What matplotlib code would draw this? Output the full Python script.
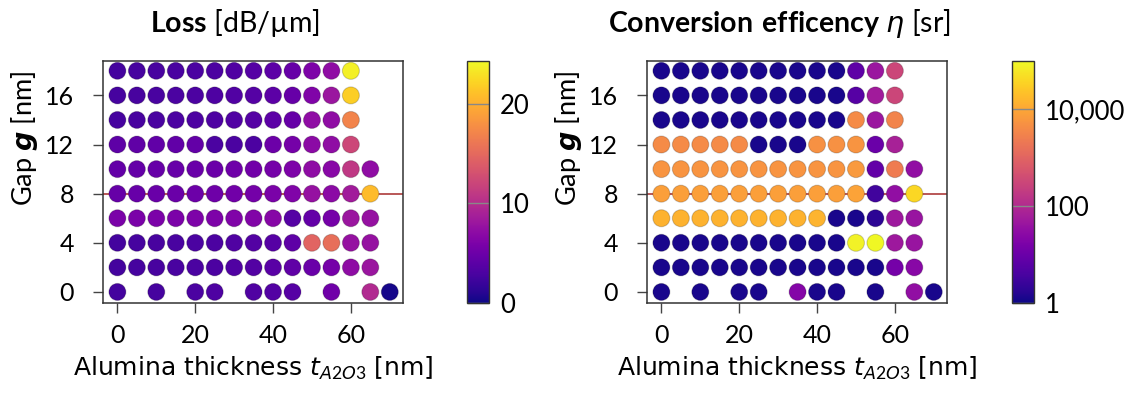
import numpy as np
import matplotlib
matplotlib.use("Agg")
import matplotlib.pyplot as plt
from matplotlib.colors import Normalize, LogNorm
from matplotlib.ticker import FuncFormatter

nan = np.nan

# alumina thickness (columns) and gap (rows)
thickness = [0, 5, 10, 15, 20, 25, 30, 35, 40, 45, 50, 55, 60, 65, 70]
gap = [0, 2, 4, 6, 8, 10, 12, 14, 16, 18]

# loss in dB/um, one row per gap value
loss_g0 = [2.6, nan, 2.7, nan, 3.0, 3.2, nan, 3.3, 3.5, 3.7, nan, 5.2, nan, 9.7, 0.3]
loss_g2 = [2.6, 2.7, 2.8, 2.9, 3.0, 3.1, 3.3, 3.5, 3.8, 4.2, 4.8, 5.6, 7.2, 8.0, nan]
loss_g4 = [2.6, 2.7, 2.8, 2.9, 3.0, 3.1, 3.3, 3.5, 3.7, 4.1, 14.6, 15.4, 7.6, 7.6, nan]
loss_g6 = [5.8, 5.8, 5.9, 5.9, 6.0, 6.0, 6.2, 6.3, 6.6, 3.6, 4.4, 5.6, 8.0, 7.6, nan]
loss_g8 = [4.6, 4.7, 4.8, 4.9, 5.0, 5.1, 5.3, 5.5, 5.8, 6.2, 7.6, 7.0, 8.5, 20.7, nan]
loss_g10 = [4.4, 4.5, 4.6, 4.7, 4.8, 4.9, 5.1, 5.3, 5.6, 6.0, 7.2, 6.8, 11.0, 7.3, nan]
loss_g12 = [4.1, 4.2, 4.3, 4.3, 4.4, 3.0, 3.0, 3.1, 5.0, 5.6, 7.0, 7.3, 12.2, nan, nan]
loss_g14 = [2.7, 2.8, 2.9, 3.0, 3.1, 3.2, 3.4, 3.6, 4.0, 4.6, 7.3, 7.3, 17.0, nan, nan]
loss_g16 = [2.7, 2.8, 2.9, 3.0, 3.1, 3.2, 3.4, 3.6, 4.0, 4.6, 6.2, 8.0, 21.9, nan, nan]
loss_g18 = [2.6, 2.7, 2.8, 2.9, 3.0, 3.1, 3.3, 3.6, 4.0, 4.6, 6.0, 7.3, 23.8, nan, nan]

# conversion efficiency in sr
eff_g0 = [1.2, nan, 1.2, nan, 1.2, 1.2, nan, 22, 1.2, 1.2, nan, 1.2, nan, 32, 1.2]
eff_g2 = [1.2, 1.2, 1.2, 1.2, 1.2, 1.2, 1.2, 1.2, 1.2, 1.2, 1.2, 1.2, 14, 25, nan]
eff_g4 = [1.2, 1.2, 1.2, 1.2, 1.2, 1.2, 1.2, 1.2, 1.2, 1.2, 80000, 95000, 50, 40, nan]
eff_g6 = [14000, 14000, 14000, 14000, 14000, 14000, 14000, 14000, 14500, 1.2, 1.2, 1.8, 50, 40, nan]
eff_g8 = [8000, 8000, 8000, 8000, 8000, 8000, 8000, 8000, 8000, 8000, 9000, 3.2, 32, 40000, nan]
eff_g10 = [5600, 5600, 5600, 5600, 5600, 5600, 5600, 5600, 5600, 5600, 6500, 8, 2500, 32, nan]
eff_g12 = [4000, 4000, 4000, 4000, 4000, 1.2, 1.2, 1.2, 5000, 5000, 5600, 10, 70, nan, nan]
eff_g14 = [1.2, 1.2, 1.2, 1.2, 1.2, 1.2, 1.2, 1.2, 1.2, 1.2, 4000, 45, 3200, nan, nan]
eff_g16 = [1.2, 1.2, 1.2, 1.2, 1.2, 1.2, 1.2, 1.2, 1.2, 1.2, 5.6, 56, 316, nan, nan]
eff_g18 = [1.2, 1.2, 1.2, 1.2, 1.2, 1.2, 1.2, 1.2, 1.2, 1.2, 7, 45, 316, nan, nan]

loss = np.array([loss_g0, loss_g2, loss_g4, loss_g6, loss_g8,
                 loss_g10, loss_g12, loss_g14, loss_g16, loss_g18])
eff = np.array([eff_g0, eff_g2, eff_g4, eff_g6, eff_g8,
                eff_g10, eff_g12, eff_g14, eff_g16, eff_g18])

plt.rcParams['font.family'] = ['Lato', 'DejaVu Sans']
plt.rcParams['font.size'] = 18
plt.rcParams['mathtext.fontset'] = 'custom'
plt.rcParams['mathtext.rm'] = 'Lato'
plt.rcParams['mathtext.bf'] = 'Lato:bold'
plt.rcParams['mathtext.it'] = 'DejaVu Sans:italic'
plt.rcParams['mathtext.bfit'] = 'DejaVu Sans:italic:bold'

fig = plt.figure(figsize=(11.28, 3.94), dpi=100)

W, H = 1128, 394


def box(x0, y0, x1, y1):
    return [x0 / W, 1 - y1 / H, (x1 - x0) / W, (y1 - y0) / H]


ax1 = fig.add_axes(box(103, 61, 403, 303))
cax1 = fig.add_axes(box(467, 61, 489, 303))
ax2 = fig.add_axes(box(647, 61, 947, 303))
cax2 = fig.add_axes(box(1012, 61, 1034, 303))

X, Y = np.meshgrid(thickness, gap)


def panel(ax, cax, data, norm, title, ticks, fmt):
    ok = ~np.isnan(data)
    ax.axhline(8, color='#a52a2a', lw=1.1, zorder=1)
    sc = ax.scatter(X[ok], Y[ok], c=data[ok], cmap='plasma', norm=norm, s=150,
                    edgecolors=(0, 0, 0, 0.18), linewidths=0.8, zorder=2)
    ax.set_xlim(-3.7, 73.4)
    ax.set_ylim(-0.9, 18.8)
    ax.set_xticks([0, 20, 40, 60])
    ax.set_yticks([0, 4, 8, 12, 16])
    ax.tick_params(length=7, width=1, color='#444444')
    ax.tick_params(axis='x', pad=8)
    ax.tick_params(axis='y', pad=14)
    for sp in ax.spines.values():
        sp.set_color('#333333')
        sp.set_linewidth(1.1)
    ax.set_xlabel(r'Alumina thickness $t_{A2O3}$ [nm]', labelpad=6,
                  fontfamily='DejaVu Sans')
    ax.set_ylabel(r'Gap $\mathbfit{g}$ [nm]', fontsize=19.5)
    ax.yaxis.set_label_coords(-0.21, 0.68)
    ax.set_title(title, x=0.44, pad=21, fontsize=20.5)
    cb = fig.colorbar(sc, cax=cax)
    cb.set_ticks(ticks)
    cb.ax.yaxis.set_major_formatter(FuncFormatter(fmt))
    cb.ax.minorticks_off()
    cb.ax.tick_params(direction='in', length=16, width=1, color='#888888',
                      labelsize=18.5, pad=8)
    cb.outline.set_edgecolor('#333333')
    cb.outline.set_linewidth(1)


panel(ax1, cax1, loss, Normalize(0, 24.3), r'$\mathbf{Loss}$ [dB/µm]',
      [0, 10, 20], lambda v, p: f'{v:.0f}')
panel(ax2, cax2, eff, LogNorm(1, 1e5),
      r'$\mathbf{Conversion\ efficency}$ $\eta$ [sr]',
      [1, 100, 10000], lambda v, p: f'{v:,.0f}')

fig.savefig('out.png', dpi=100)
